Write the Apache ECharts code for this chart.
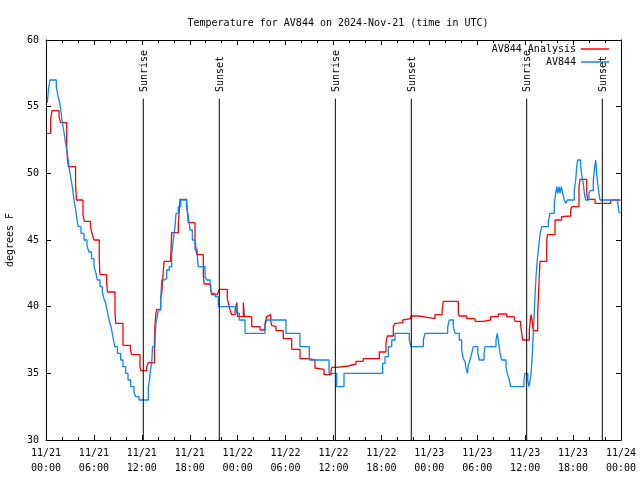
<!DOCTYPE html>
<html><head><meta charset="utf-8">
<script src="https://cdn.jsdelivr.net/npm/echarts@6/dist/echarts.min.js"></script>
<style>html,body{margin:0;padding:0;background:#fff}#c{width:640px;height:480px}</style>
</head><body><div id="c"></div>
<script>
// Hours since 2024-11-21 00:00 UTC
const tickDates = ['11/21','11/21','11/21','11/21','11/22','11/22','11/22','11/22','11/23','11/23','11/23','11/23','11/24'];
const tickTimes = ['00:00','06:00','12:00','18:00','00:00','06:00','12:00','18:00','00:00','06:00','12:00','18:00','00:00'];

const analysisHours = [0.13,0.59,0.75,1.63,1.84,2.59,2.69,2.82,3.70,3.82,4.63,4.80,5.57,5.76,6.01,6.67,6.76,7.60,7.70,8.64,8.73,9.64,10.58,10.71,11.77,11.86,12.61,12.81,13.58,13.65,13.77,13.86,14.36,14.49,14.61,14.78,15.61,15.74,16.57,16.69,16.78,17.62,17.82,18.66,18.87,19.70,19.79,20.62,20.75,21.45,21.70,22.70,22.83,23.04,23.25,23.67,23.88,24.00,24.71,24.83,25.76,26.80,27.42,27.64,27.84,28.14,28.26,28.46,28.80,29.71,30.77,31.81,32.85,33.68,33.90,34.81,35.69,35.81,36.40,37.85,38.82,39.73,41.74,42.57,42.74,43.49,43.70,43.91,44.67,44.74,45.70,46.62,47.75,48.71,49.61,49.74,51.63,51.75,52.68,53.72,54.76,55.68,56.64,57.69,58.60,58.73,59.44,59.57,59.69,60.52,60.61,60.73,60.86,61.02,61.57,61.73,61.86,62.70,62.78,63.74,64.57,64.78,65.70,65.83,66.74,66.87,67.71,67.83,68.75,70.71,71.94];
const analysisTemps = [53.0,54.1,54.7,54.25,53.8,52.0,51.0,50.5,49.1,48.0,46.9,46.4,46.0,45.5,45.0,43.5,42.4,41.75,41.1,39.5,38.75,37.1,36.8,36.4,35.5,35.2,35.5,35.8,37.5,38.75,39.5,39.8,40.6,41.0,42.0,43.4,43.75,45.55,46.25,47.25,48.05,47.75,46.3,45.0,43.9,42.4,41.7,41.25,40.9,40.75,41.3,40.6,40.3,39.75,39.4,39.75,40.3,39.25,40.3,39.25,38.5,38.25,38.75,39.25,39.4,38.9,38.6,38.5,38.2,37.6,36.8,36.1,36.0,35.4,35.3,34.9,35.25,35.45,35.55,35.7,35.9,36.1,36.6,37.25,37.8,38.5,38.75,38.8,39.0,39.1,39.3,39.2,39.1,39.4,39.75,40.4,39.5,39.3,39.1,38.9,39.0,39.25,39.45,39.25,39.1,38.9,38.6,38.0,37.5,38.25,38.75,39.4,39.0,38.2,39.5,41.75,43.4,44.9,45.4,46.5,46.75,46.8,47.25,47.5,49.0,49.55,48.5,48.05,47.75,48.0,48.0];

const stationHours = [0.16,0.31,0.50,1.29,1.50,1.75,2.00,2.25,2.44,2.67,2.88,3.09,3.29,3.51,3.72,3.88,4.04,4.38,4.76,5.13,5.38,5.70,6.01,6.26,6.42,6.76,7.05,7.26,7.48,7.70,7.89,8.14,8.30,8.45,8.60,8.95,9.35,9.64,9.98,10.27,10.61,11.02,11.23,11.65,12.81,12.96,13.09,13.24,13.34,13.65,13.77,13.90,14.06,14.36,14.49,14.78,15.11,15.44,15.74,15.84,15.94,16.15,16.28,16.57,16.87,17.59,17.82,18.03,18.32,18.66,18.95,19.07,19.91,20.12,20.54,20.75,21.16,21.58,23.88,24.21,24.92,27.42,27.64,30.05,31.80,32.97,35.44,36.40,37.32,42.16,42.45,42.86,43.29,43.70,45.49,45.70,47.25,47.46,50.30,50.50,51.00,51.22,51.75,52.05,52.25,52.46,52.59,52.76,52.88,53.09,53.31,53.51,54.07,54.26,54.85,54.97,56.35,56.51,56.69,56.85,57.06,57.60,57.76,58.01,58.19,59.85,59.98,60.33,60.48,60.69,60.86,61.02,61.19,61.36,61.52,61.70,61.86,62.07,62.90,63.11,63.65,63.82,63.95,64.07,64.24,64.36,64.53,64.70,64.90,65.11,65.28,66.15,66.33,66.45,66.58,66.95,67.08,67.28,67.41,67.58,67.99,68.12,68.53,68.71,68.83,68.96,69.08,69.24,69.37,71.59,71.75,71.94];
const stationTemps = [55.3,56.3,57.0,56.5,55.8,55.2,54.0,53.1,52.3,51.5,50.5,49.7,49.0,48.0,47.25,46.5,46.0,45.5,45.0,44.6,44.1,43.6,43.0,42.5,42.0,41.5,41.1,40.6,40.25,39.6,39.0,38.5,38.0,37.5,37.0,36.5,36.0,35.5,35.0,34.5,34.0,33.6,33.25,33.0,34.0,34.5,35.3,35.8,37.0,37.6,38.8,39.1,39.75,40.5,42.0,42.1,42.75,43.0,43.9,44.5,45.0,46.0,47.0,47.5,48.0,47.5,46.75,45.75,45.0,44.25,43.75,43.0,42.25,42.0,41.6,41.0,40.75,40.0,39.5,39.0,38.0,38.6,39.0,38.0,37.0,36.0,35.0,34.0,35.0,35.75,36.25,37.0,37.5,38.0,37.5,37.0,37.5,38.0,38.5,39.0,38.5,38.0,37.5,36.75,36.1,35.9,35.4,35.0,35.6,36.0,36.5,37.0,36.5,36.0,36.5,37.0,37.5,38.0,37.25,36.5,36.0,35.5,35.0,34.5,34.0,34.5,35.0,34.5,34.0,34.75,36.0,38.0,40.25,42.25,43.5,44.5,45.4,46.0,46.4,47.0,47.75,48.5,49.0,48.5,49.0,48.5,49.0,48.5,48.0,47.75,48.0,48.75,49.5,50.5,51.0,50.5,49.9,49.25,48.5,48.0,48.5,48.7,49.5,50.5,51.0,50.0,49.25,48.5,48.0,47.75,47.1,47.0];

const eventHours = [12.18, 21.70, 36.23, 45.74, 60.19, 69.66];
const eventNames = ['Sunrise','Sunset','Sunrise','Sunset','Sunrise','Sunset'];

const FONT = 'DejaVu Sans Mono';
const zip = (a, b) => a.map((v, i) => [v, b[i]]);

const chart = echarts.init(document.getElementById('c'), null, {renderer: 'canvas'});
const baseX = {
  type: 'value', min: 0, max: 72, interval: 6,
  axisLine: {show: true, onZero: false, lineStyle: {color: '#000', width: 1}},
  axisTick: {show: true, inside: true, length: 5, lineStyle: {color: '#000'}},
  minorTick: {show: true, splitNumber: 3, length: 3, lineStyle: {color: '#000'}},
  splitLine: {show: false}, minorSplitLine: {show: false}
};
const baseY = {
  type: 'value', min: 30, max: 60, interval: 5,
  axisLine: {show: true, onZero: false, lineStyle: {color: '#000', width: 1}},
  axisTick: {show: true, inside: true, length: 5, lineStyle: {color: '#000'}},
  splitLine: {show: false}
};
chart.setOption({
  animation: false,
  backgroundColor: '#fff',
  title: {
    text: 'Temperature for AV844 on 2024-Nov-21 (time in UTC)',
    left: 333, textAlign: 'center', top: 13,
    textStyle: {fontFamily: FONT, fontSize: 10, fontWeight: 'normal', color: '#000'}
  },
  legend: [
    {data: ['AV844 Analysis'], orient: 'vertical', right: 31, top: 44, padding: 0, align: 'right',
     icon: 'rect', itemWidth: 28, itemHeight: 1.5, selectedMode: false,
     textStyle: {fontFamily: FONT, fontSize: 10, color: '#000'}},
    {data: ['AV844'], orient: 'vertical', right: 31, top: 57, padding: 0, align: 'right',
     icon: 'rect', itemWidth: 28, itemHeight: 1.5, selectedMode: false,
     textStyle: {fontFamily: FONT, fontSize: 10, color: '#000'}}
  ],
  grid: {left: 46, right: 19, top: 40, bottom: 40, containLabel: false, outerBoundsMode: 'none'},
  xAxis: [
    Object.assign({}, baseX, {position: 'bottom',
      axisLabel: {show: true, margin: 6, fontFamily: FONT, fontSize: 10, color: '#000', lineHeight: 15,
        hideOverlap: false,
        formatter: v => { const i = Math.round(v / 6); return tickDates[i] + '\n' + tickTimes[i]; }}}),
    Object.assign({}, baseX, {position: 'top', axisLabel: {show: false}})
  ],
  yAxis: [
    Object.assign({}, baseY, {position: 'left',
      name: 'degrees F', nameLocation: 'middle', nameGap: 31, nameRotate: 90,
      nameTextStyle: {fontFamily: FONT, fontSize: 10, color: '#000'},
      axisLabel: {show: true, margin: 7, fontFamily: FONT, fontSize: 10, color: '#000'}}),
    Object.assign({}, baseY, {position: 'right', axisLabel: {show: false}})
  ],
  series: [
    {
      name: 'AV844 Analysis', type: 'line', step: 'end', showSymbol: false,
      data: zip(analysisHours, analysisTemps), color: '#ff0000',
      lineStyle: {color: '#ff0000', width: 1.3}, z: 2
    },
    {
      name: 'AV844', type: 'line', step: 'end', showSymbol: false,
      data: zip(stationHours, stationTemps), color: '#0a84ff',
      lineStyle: {color: '#0a84ff', width: 1.3}, z: 3
    },
    {
      name: 'events', type: 'custom', clip: false, z: 4,
      data: eventHours.map(h => [h, 30]),
      renderItem: (params, api) => {
        const h = api.value(0);
        const p0 = api.coord([h, 30]);
        const p1 = api.coord([h, 55.6]);
        const pt = api.coord([h, 56.1]);
        return {type: 'group', children: [
          {type: 'line', shape: {x1: p0[0], y1: p0[1], x2: p1[0], y2: p1[1]},
           style: {stroke: '#000', lineWidth: 1}},
          {type: 'text', x: pt[0] + 1, y: pt[1], rotation: Math.PI / 2,
           style: {text: eventNames[params.dataIndex], font: '10px ' + FONT, fill: '#000',
                   textAlign: 'left', textVerticalAlign: 'middle'}}
        ]};
      }
    }
  ]
});
</script></body></html>
